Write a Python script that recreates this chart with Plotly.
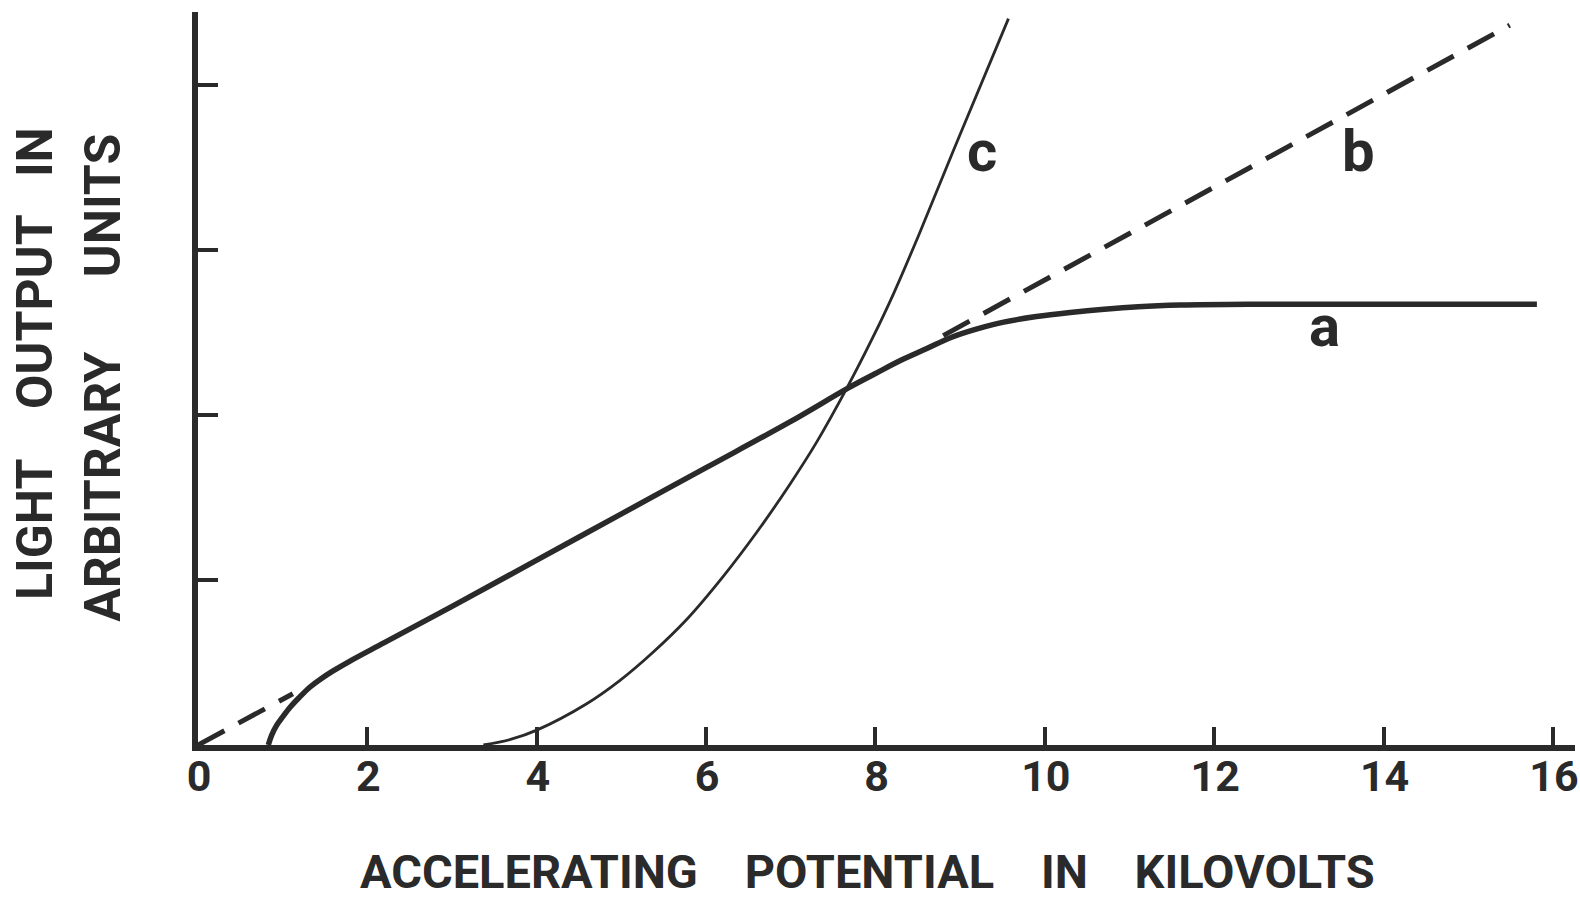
import plotly.graph_objects as go

# Curve a: light output (thick solid)
a_x = [0.83, 0.87, 0.93, 1.00, 1.09, 1.20, 1.32, 1.45, 1.60, 1.80, 2.20, 3.00, 4.00, 5.00, 6.00, 7.00,
       7.67, 8.00, 8.30, 8.60, 8.90, 9.20, 9.50, 9.90, 10.30, 10.70, 11.10, 11.60, 12.40, 13.50, 14.60, 15.81]
a_y = [0.00, 0.06, 0.12, 0.17, 0.23, 0.29, 0.35, 0.40, 0.45, 0.51, 0.62, 0.84, 1.12, 1.40, 1.68, 1.96,
       2.16, 2.25, 2.33, 2.40, 2.47, 2.52, 2.56, 2.595, 2.62, 2.64, 2.655, 2.665, 2.67, 2.67, 2.67, 2.67]

# Curve b: linear (dashed), visible only where it leaves curve a
b_x = [0.0, 1.12, None, 8.80, 15.49]
b_y = [0.0, 0.31, None, 2.48, 4.36]

# Curve c: thin solid
c_x = [3.37, 3.70, 4.00, 4.59, 4.98, 5.37, 5.77, 6.20, 6.60, 6.99, 7.30, 7.66, 7.97, 8.21, 8.52, 9.00, 9.57]
c_y = [0.00, 0.035, 0.09, 0.25, 0.39, 0.56, 0.76, 1.02, 1.29, 1.58, 1.83, 2.16, 2.47, 2.73, 3.10, 3.70, 4.40]

x_ticks = [0, 2, 4, 6, 8, 10, 12, 14, 16]
x_tick_labels = ["0", "2", "4", "6", "8", "10", "12", "14", "16"]
y_ticks = [1, 2, 3, 4]

curve_labels = ["a", "b", "c"]
label_x = [13.30, 13.70, 9.26]
label_y = [2.54, 3.60, 3.60]

NB = "\u00a0"
x_title = ("ACCELERATING" + NB * 4 + "POTENTIAL" + NB * 4 + "IN" + NB * 4 + "KILOVOLTS")
y_title_1 = "LIGHT" + NB * 4 + "OUTPUT" + NB * 3 + "IN"
y_title_2 = "ARBITRARY" + NB * 6 + "UNITS"

INK = "#2a2a2a"
FONT = "Roboto"

fig = go.Figure()
fig.add_trace(go.Scatter(x=c_x, y=c_y, mode="lines",
                         line=dict(color=INK, width=2.8, shape="spline", smoothing=1.0),
                         hoverinfo="skip", showlegend=False))
fig.add_trace(go.Scatter(x=b_x, y=b_y, mode="lines",
                         line=dict(color=INK, width=5, dash="30px,16px"),
                         hoverinfo="skip", showlegend=False))
fig.add_trace(go.Scatter(x=a_x, y=a_y, mode="lines",
                         line=dict(color=INK, width=5.5, shape="spline", smoothing=1.0),
                         hoverinfo="skip", showlegend=False))

for t, lx, ly in zip(curve_labels, label_x, label_y):
    fig.add_annotation(x=lx, y=ly, xref="x", yref="y", text=t, showarrow=False,
                       font=dict(family=FONT, size=58, color=INK, weight="bold"),
                       xanchor="center", yanchor="middle")

fig.add_annotation(x=0.4862, y=-0.173, xref="paper", yref="paper", text=x_title, showarrow=False,
                   font=dict(family=FONT, size=47, color=INK, weight="bold"),
                   xanchor="center", yanchor="middle")
fig.add_annotation(x=-0.1185, y=0.521, xref="paper", yref="paper", text=y_title_1, showarrow=False,
                   textangle=-90,
                   font=dict(family=FONT, size=50, color=INK, weight="bold"),
                   xanchor="center", yanchor="middle")
fig.add_annotation(x=-0.069, y=0.501, xref="paper", yref="paper", text=y_title_2, showarrow=False,
                   textangle=-90,
                   font=dict(family=FONT, size=50, color=INK, weight="bold"),
                   xanchor="center", yanchor="middle")

fig.update_layout(
    width=1580, height=900,
    margin=dict(l=198, r=5, t=12, b=155, autoexpand=False),
    paper_bgcolor="white", plot_bgcolor="white",
    showlegend=False,
    xaxis=dict(range=[0, 16.26], showgrid=False, zeroline=False, automargin=False,
               showline=True, linecolor=INK, linewidth=5.5,
               tickmode="array", tickvals=x_ticks, ticktext=x_tick_labels,
               ticks="inside", ticklen=18, tickwidth=3.5, tickcolor=INK,
               tickfont=dict(family=FONT, size=43, color=INK, weight="bold"),
               ticklabelstandoff=-11, ticklabelshift=1, ticklabeloverflow="allow",
               fixedrange=True),
    yaxis=dict(range=[0, 4.44], showgrid=False, zeroline=False, automargin=False,
               showline=True, linecolor=INK, linewidth=5.5,
               tickmode="array", tickvals=y_ticks,
               ticks="inside", ticklen=20, tickwidth=4, tickcolor=INK,
               showticklabels=False, fixedrange=True),
)

fig.write_html("out.html", config={"displayModeBar": False})
